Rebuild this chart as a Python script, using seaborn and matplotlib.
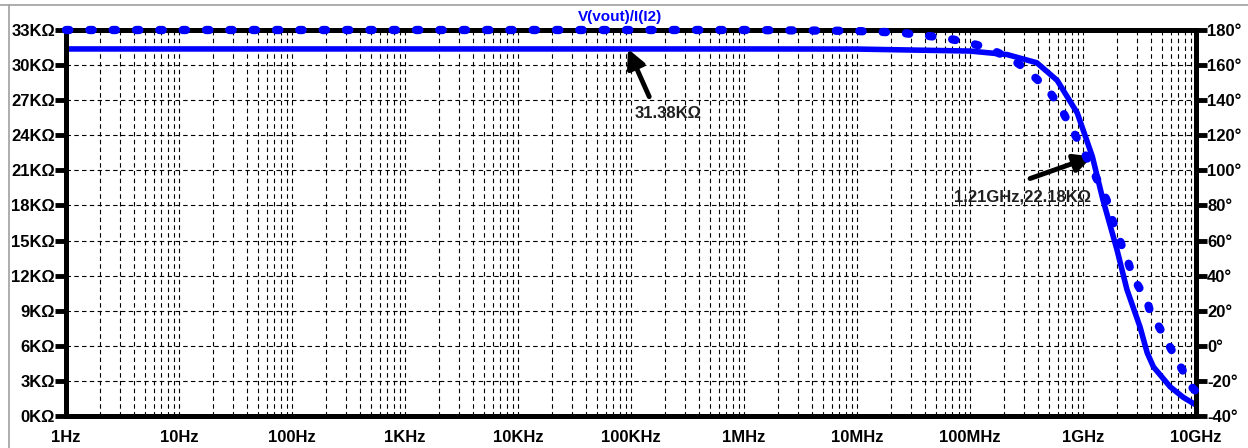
import numpy as np
import pandas as pd
import seaborn as sns
import matplotlib.pyplot as plt
from matplotlib.lines import Line2D
from matplotlib.ticker import FixedLocator, LogLocator, NullFormatter

# magnitude trace |V(vout)/I(I2)| in kOhm
freq_mag = [1, 1e3, 1e6, 1e7, 1e8, 2.13e8, 3.9e8, 5.9e8, 8.9e8, 1.21e9, 1.5e9,
            2.0e9, 2.45e9, 3.2e9, 3.7e9, 4.2e9, 5.9e9, 7.7e9, 1e10]
mag_kohm = [31.38, 31.38, 31.38, 31.37, 31.2, 30.9, 30.2, 28.7, 25.9, 22.18, 18.5,
            14.2, 10.8, 7.6, 5.4, 4.2, 2.5, 1.6, 0.94]

# phase trace in degrees (log10 of frequency)
phase_logf = [0, 3, 6, 6.96, 7.18, 7.38, 7.58, 7.78, 7.97, 8.15, 8.38, 8.49, 8.60,
              8.69, 8.80, 8.88, 8.97, 9.08, 9.21, 9.26, 9.30, 9.35, 9.39, 9.44,
              9.49, 9.57, 9.59, 9.68, 9.77, 9.88, 9.97, 10.0]
phase_deg = [180, 180, 180, 179.5, 179, 178.5, 177, 175.5, 173, 170, 163, 158, 151.5,
             146, 136, 126, 115.6, 101, 83, 71.7, 65, 55.8, 49.5, 39.8,
             34, 25, 20.4, 10, -0.7, -13.8, -24, -26]

mag_ticks = list(range(0, 34, 3))
phase_ticks = list(range(-40, 181, 20))
freq_ticks = [10.0 ** k for k in range(11)]
freq_labels = ["1Hz", "10Hz", "100Hz", "1KHz", "10KHz", "100KHz",
               "1MHz", "10MHz", "100MHz", "1GHz", "10GHz"]

title = "V(vout)/I(I2)"
note1 = "31.38KΩ"
note2 = "1.21GHz,22.18KΩ"

sns.set_theme(style="white")
plt.rcParams['font.family'] = ['Liberation Sans', 'DejaVu Sans']

blue = "#0000ff"
fs = 12
df_mag = pd.DataFrame({"f": freq_mag, "z": np.array(mag_kohm) * 1000})
df_ph = pd.DataFrame({"f": 10.0 ** np.array(phase_logf), "p": phase_deg})

fig = plt.figure(figsize=(12.48, 4.48), dpi=100)
ax = fig.add_axes([66 / 1248, 1 - 416 / 448, 1130 / 1248, 386 / 448])
ax2 = ax.twinx()

sns.lineplot(data=df_mag, x="f", y="z", ax=ax, color=blue, lw=4, zorder=3)
sns.lineplot(data=df_ph, x="f", y="p", ax=ax2, color=blue, lw=6, zorder=5,
             dashes=False)
ph_line = ax2.get_lines()[0]
ph_line.set_dashes((0.4, 2.4))
ph_line.set_dash_capstyle("round")
ph_line.set_clip_on(False)

ax.set_xscale("log")
ax.set_xlim(1, 1e10)
ax.set_ylim(0, 33000)
ax2.set_ylim(-40, 180)

ax.xaxis.set_major_locator(FixedLocator(freq_ticks))
ax.set_xticklabels(freq_labels)
ax.xaxis.set_minor_locator(LogLocator(base=10, subs=np.arange(2, 10), numticks=100))
ax.xaxis.set_minor_formatter(NullFormatter())
ax.set_yticks([v * 1000 for v in mag_ticks])
ax.set_yticklabels([f"{v}KΩ" for v in mag_ticks])
ax2.set_yticks(phase_ticks)
ax2.set_yticklabels([f"{v}°" for v in phase_ticks])
ax.set_xlabel("")
ax.set_ylabel("")
ax2.set_ylabel("")

grid_kw = dict(color="black", lw=0.8, linestyle=(0, (4, 3)))
ax.grid(True, which="major", axis="both", **grid_kw)
ax.grid(True, which="minor", axis="x", **grid_kw)
ax.set_axisbelow(True)

for a in (ax, ax2):
    for s in a.spines.values():
        s.set_linewidth(3.6)
        s.set_color("black")
ax.tick_params(axis="y", which="major", length=8, width=3.5, pad=0,
               labelsize=fs, colors="black", direction="out")
ax2.tick_params(axis="y", which="major", length=8, width=3.5, pad=0,
                labelsize=fs, colors="black", direction="out")
ax.tick_params(axis="x", which="major", length=4, width=3.5, pad=6,
               labelsize=fs, colors="black", direction="out")
ax.tick_params(axis="x", which="minor", length=3, width=3, direction="out",
               colors="black")
for lbl in ax.get_xticklabels() + ax.get_yticklabels() + ax2.get_yticklabels():
    lbl.set_fontweight("bold")

arrow_kw = dict(arrowstyle="-|>,head_length=0.9,head_width=0.45", lw=3.5,
                color="black", shrinkA=0, shrinkB=0)
ax.annotate("", xy=(9.4e4, 31380), xytext=(1.45e5, 27300), arrowprops=arrow_kw)
ax.text(2.13e5, 25900, note1, ha="center", va="center", fontsize=fs,
        fontweight="bold", color="#202020")
ax.annotate("", xy=(1.21e9, 22180), xytext=(3.4e8, 20300), arrowprops=arrow_kw)
ax.text(2.9e8, 18700, note2, ha="center", va="center", fontsize=fs,
        fontweight="bold", color="#202020")

fig.text(620 / 1248, 1 - 17 / 448, title, color=blue, fontsize=11,
         fontweight="bold", ha="center", va="center")

# window frame lines
fig.add_artist(Line2D([0, 1], [1 - 5 / 448, 1 - 5 / 448], color="#a0a0a0", lw=1.2))
fig.add_artist(Line2D([9 / 1248, 9 / 1248], [0, 1 - 5 / 448], color="#a0a0a0", lw=1.2))

fig.savefig("out.png", dpi=100, facecolor="white")
